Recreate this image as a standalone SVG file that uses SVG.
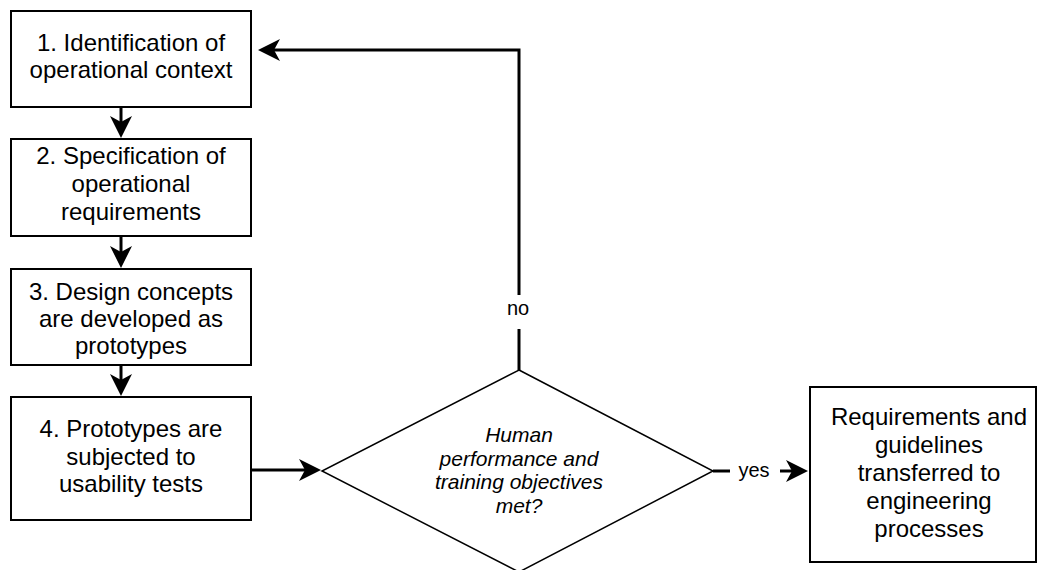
<svg xmlns="http://www.w3.org/2000/svg" width="1037" height="570" viewBox="0 0 1037 570">
  <style>
    .box { fill: #ffffff; stroke: #000000; stroke-width: 2; }
    .dia { fill: #ffffff; stroke: #000000; stroke-width: 1.5; }
    .t { font-family: "Liberation Sans", Arial, sans-serif; font-size: 24px; fill: #000000; text-anchor: middle; }
    .ti { font-family: "Liberation Sans", Arial, sans-serif; font-size: 21px; font-style: italic; fill: #000000; text-anchor: middle; }
    .lbl { font-family: "Liberation Sans", Arial, sans-serif; font-size: 20px; fill: #000000; text-anchor: middle; }
    .edge { fill: none; stroke: #000000; stroke-width: 3; stroke-linejoin: miter; }
  </style>
  <defs>
    <marker id="arrow" markerUnits="userSpaceOnUse" markerWidth="23" markerHeight="22" viewBox="0 0 23 22" refX="7" refY="11" orient="auto">
      <path d="M0,0 L22,11 L0,22 L6,11 Z" fill="#000000"/>
    </marker>
  </defs>
  <rect width="1037" height="570" fill="#ffffff"/>

  <g id="connectors">
    <path class="edge" d="M121,107 V123" marker-end="url(#arrow)"/>
    <path class="edge" d="M121,236 V253" marker-end="url(#arrow)"/>
    <path class="edge" d="M121,365 V381" marker-end="url(#arrow)"/>
    <path class="edge" d="M251,470 H306" marker-end="url(#arrow)"/>
    <path class="edge" d="M519,370 V329"/>
    <path class="edge" d="M519,295 V50 H273" marker-end="url(#arrow)"/>
    <text class="lbl" x="518" y="315">no</text>
    <path class="edge" d="M713,471 H730"/>
    <path class="edge" d="M780,471 H793" marker-end="url(#arrow)"/>
    <text class="lbl" x="754" y="477">yes</text>
  </g>

  <g id="node1">
    <rect class="box" x="11" y="11" width="240" height="96"/>
    <text class="t" x="131" y="51">1. Identification of</text>
    <text class="t" x="131" y="78">operational context</text>
  </g>
  <g id="node2">
    <rect class="box" x="11" y="139" width="240" height="97"/>
    <text class="t" x="131" y="164">2. Specification of</text>
    <text class="t" x="131" y="192">operational</text>
    <text class="t" x="131" y="220">requirements</text>
  </g>
  <g id="node3">
    <rect class="box" x="11" y="269" width="240" height="96"/>
    <text class="t" x="131" y="300">3. Design concepts</text>
    <text class="t" x="131" y="327">are developed as</text>
    <text class="t" x="131" y="354">prototypes</text>
  </g>
  <g id="node4">
    <rect class="box" x="11" y="397" width="240" height="123"/>
    <text class="t" x="131" y="437">4. Prototypes are</text>
    <text class="t" x="131" y="465">subjected to</text>
    <text class="t" x="131" y="492">usability tests</text>
  </g>
  <g id="decision">
    <polygon class="dia" points="519,370 713,471 519,572 322,471"/>
    <text class="ti" x="519" y="442">Human</text>
    <text class="ti" x="519" y="466">performance and</text>
    <text class="ti" x="519" y="489">training objectives</text>
    <text class="ti" x="519" y="513">met?</text>
  </g>
  <g id="node5">
    <rect class="box" x="810" y="387" width="226" height="175"/>
    <text class="t" x="929" y="425">Requirements and</text>
    <text class="t" x="929" y="453">guidelines</text>
    <text class="t" x="929" y="481">transferred to</text>
    <text class="t" x="929" y="509">engineering</text>
    <text class="t" x="929" y="537">processes</text>
  </g>
</svg>
